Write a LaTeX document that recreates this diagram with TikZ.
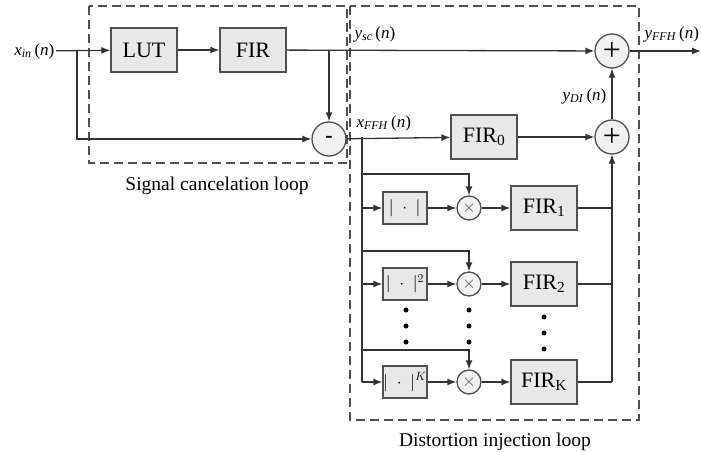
\documentclass[tikz,border=0pt]{standalone}
\usepackage{fontspec}
\setmainfont{Liberation Serif}
\usetikzlibrary{arrows.meta,positioning,calc}
\definecolor{blkfill}{RGB}{232,232,232}
\definecolor{blkline}{RGB}{80,80,80}
\newcommand{\sg}[2]{\textit{#1}\textsubscript{\textit{#2}}\,(\textit{n})}

\begin{document}
\begin{tikzpicture}[x=1pt,y=-1pt,line width=1.3pt,draw=black!80,
    >={Latex[length=9pt,width=7pt]},
    blk/.style={draw=blkline, fill=blkfill, minimum width=66pt, minimum height=44pt, inner sep=0pt, font=\fontsize{22}{24}\selectfont},
    pow/.style={draw=blkline, fill=blkfill, minimum width=44pt, minimum height=32pt, inner sep=0pt, font=\fontsize{17}{19}\selectfont},
    sum/.style={circle, draw=blkline, fill=blkfill!60, minimum size=34pt, inner sep=0pt},
    mult/.style={circle, draw=blkline, fill=blkfill!60, minimum size=24pt, inner sep=0pt, font=\fontsize{16}{16}\selectfont, text=black!70},
    loopbox/.style={draw=blkline, dash pattern=on 9pt off 5pt, line width=1.4pt},
    sig/.style={font=\fontsize{17}{19}\selectfont, inner sep=1pt},
    looptext/.style={font=\fontsize{19.5}{21}\selectfont}]
    \useasboundingbox (0,0) rectangle (702,452);
    % loops
    \draw[loopbox] (89,6) rectangle (347,163);
    \draw[loopbox] (350,6) rectangle (639,420);
    \node[looptext] (capsc) at (217,186) {Signal cancelation loop};
    \node[looptext] (capdi) at (495,442) {Distortion injection loop};

    \node[sig, anchor=east] (xin) at (56,51) {\sg{x}{in}};
    \node[blk] (lut) at (144,50) {LUT};
    \node[blk] (fir) at (253,50) {FIR};
    \node[sum, font=\fontsize{22}{22}\bfseries] (sub) at (329,139) {-};
    \node[sum, font=\fontsize{32}{32}\selectfont] (out) at (612,51) {+};
    \node[sum, font=\fontsize{32}{32}\selectfont] (add) at (612,137) {+};
    \node[blk] (fir0) at (484,137) {FIR\textsubscript{0}};
    \coordinate (br) at (77,51);
    \coordinate (tap) at (329,51);
    \coordinate (yend) at (701,51);

    \draw[->] (xin) -- (lut);
    \draw[->] (br) |- (sub);
    \draw[->] (lut) -- (fir);
    \draw[->] (fir) -- (out);
    \draw[->] (tap) -- (sub);
    \draw[->] (out) -- (yend);
    \draw[->] (sub) -- (fir0);
    \draw[->] (fir0) -- (add);
    \draw[->] (add) -- (out);

    \node[sig, anchor=west] (ysc) at (353,34) {\sg{y}{sc}};
    \node[sig, anchor=west] (xffh) at (355,123) {\sg{x}{FFH}};
    \node[sig, anchor=east] (ydi) at (608,96) {\sg{y}{DI}};
    \node[sig, anchor=west] (yffh) at (643,34) {\sg{y}{FFH}};

    % distortion injection branches
    \coordinate (vtop) at (362,137);
    \coordinate (vbot) at (362,382);
    \draw (vtop) -- (vbot);
    \foreach \i/\y/\f/\e in {1/208/174/{}, 2/284/251/2, K/382/350/K} {
      \node[pow] (pow\i) at (405,\y) {$|\;\cdot\;|^{\e}$};
      \node[mult] (mul\i) at (469,\y) {$\times$};
      \node[blk] (fir\i) at (544,\y) {FIR\textsubscript{\i}};
      \coordinate (fd\i) at (362,\f);
      \draw[->] (vtop |- pow\i) -- (pow\i);
      \draw[->] (fd\i) -| (mul\i);
      \draw[->] (pow\i) -- (mul\i);
      \draw[->] (mul\i) -- (fir\i);
      \draw (fir\i) -- (add |- fir\i);
    }
    \draw[->] (add |- firK) -- (add);

    \foreach \d in {0,16,32} {
      \fill (406,310+\d) circle (2.5pt);
      \fill (469,310+\d) circle (2.5pt);
      \fill (544,317+\d) circle (2.5pt);
    }
\end{tikzpicture}
\end{document}
